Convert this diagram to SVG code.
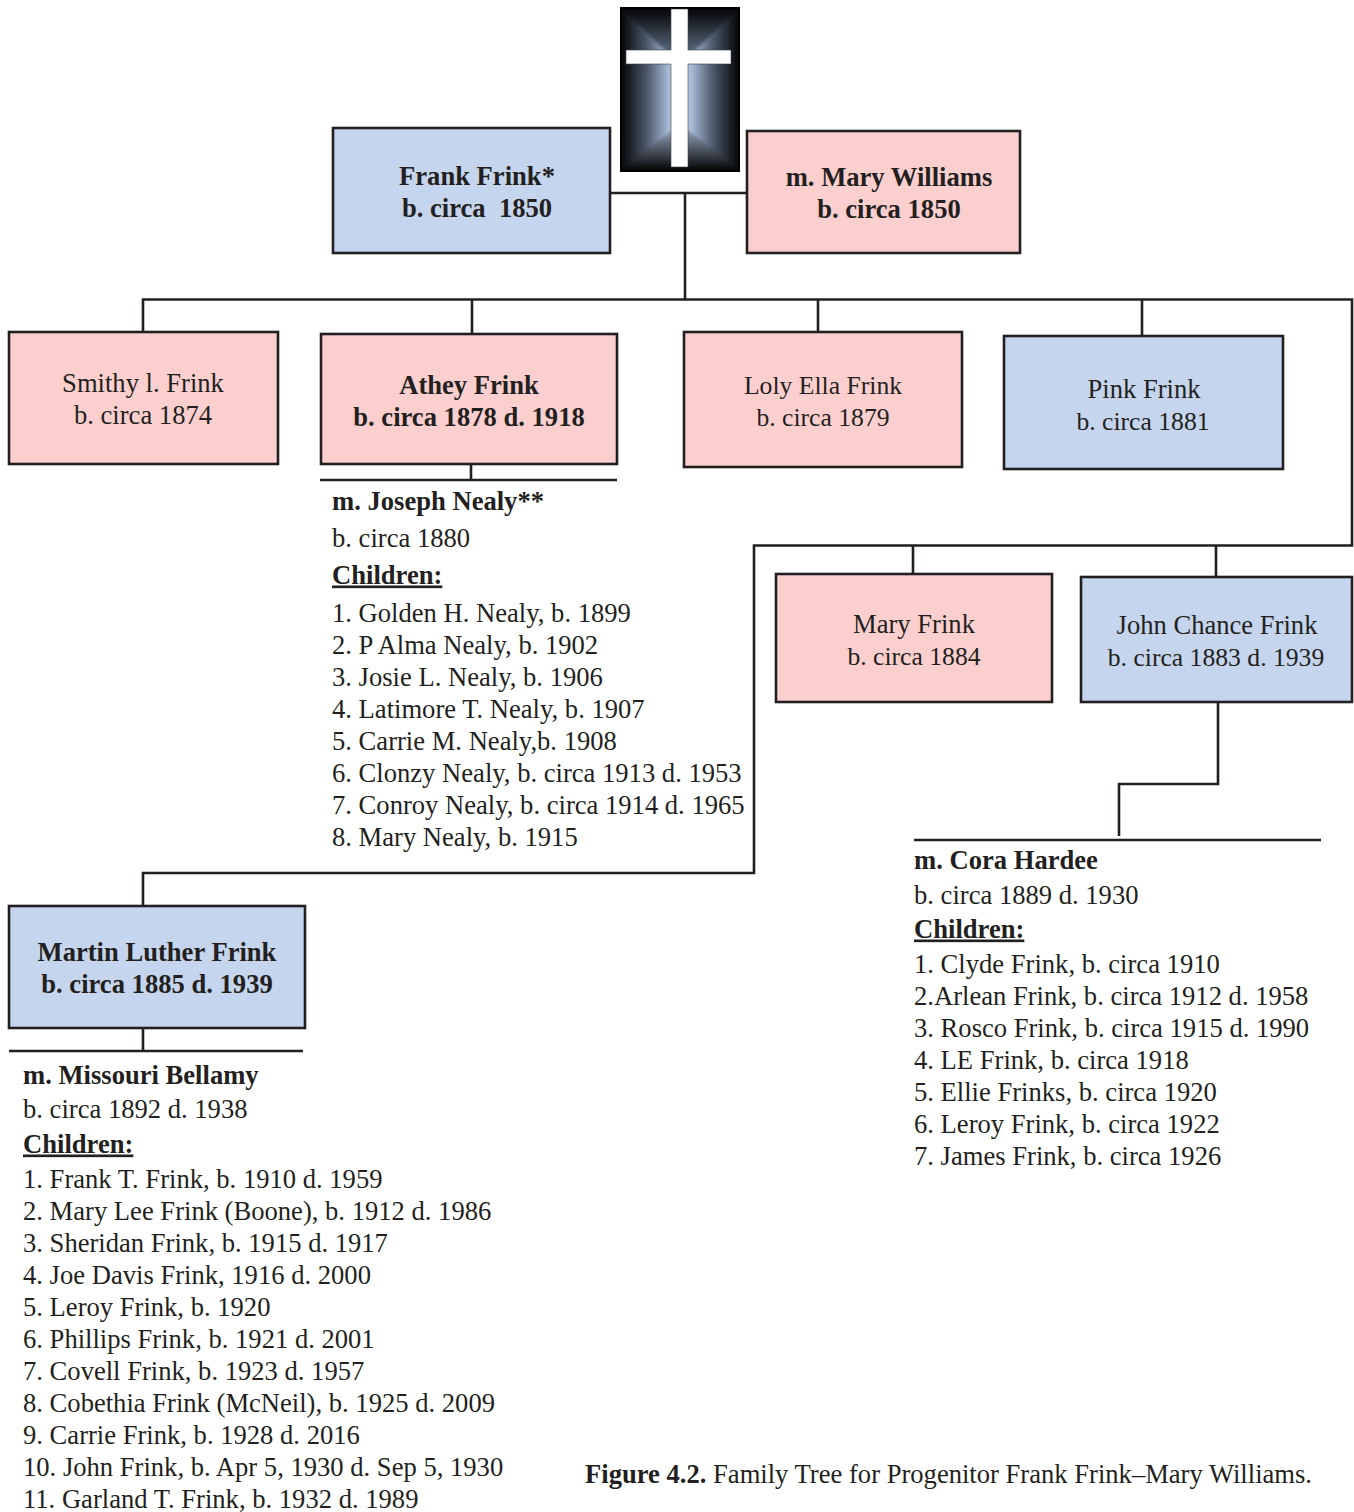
<svg xmlns="http://www.w3.org/2000/svg" width="1354" height="1512" viewBox="0 0 1354 1512">
<style>
text{font-family:"Liberation Serif","Times New Roman",serif;font-size:26.6px;fill:#231f20;transform:translateY(.5px)}
.b{font-weight:bold}
.m{text-anchor:middle}
.t{font-size:25.65px}
.n{stroke:#231f20;stroke-width:2.6}
.p{fill:#fccfcf}
.l{fill:#c6d5ee}
.c{fill:none;stroke:#231f20;stroke-width:2.6}
</style>
<defs>
<linearGradient id="gl" x1="0" x2="1" y1="0" y2="0"><stop offset="0" stop-color="#000"/><stop offset="0.45" stop-color="#4c586a"/><stop offset="0.8" stop-color="#a4b8d4"/><stop offset="1" stop-color="#cfdff4"/></linearGradient>
<linearGradient id="gr" x1="1" x2="0" y1="0" y2="0"><stop offset="0" stop-color="#000"/><stop offset="0.45" stop-color="#4c586a"/><stop offset="0.8" stop-color="#a4b8d4"/><stop offset="1" stop-color="#cfdff4"/></linearGradient>
<linearGradient id="gt" x1="0" x2="0" y1="0" y2="1"><stop offset="0" stop-color="#000"/><stop offset="1" stop-color="#6f829c"/></linearGradient>
<linearGradient id="gb" x1="0" x2="0" y1="1" y2="0"><stop offset="0" stop-color="#000"/><stop offset="1" stop-color="#a0b1c8"/></linearGradient>
<filter id="s" x="-5%" y="-5%" width="110%" height="110%"><feGaussianBlur stdDeviation="1.5"/></filter>
<clipPath id="cc"><rect x="620" y="7" width="120" height="165"/></clipPath>
</defs>
<rect width="1354" height="1512" fill="#fff"/>
<g id="connectors">
<path class="c" d="M610 193H747M685 193V299.5M143 332V299.5H1352V545.5H754V873H143V906"/>
<path class="c" d="M472 299.5V334M818 299.5V332M1142 299.5V335M913 545.5V574M1216 545.5V577M1218 702V784H1119V836"/>
<path class="c" d="M471 465V480M320 480H617M143 1028V1051M9 1051H303M914 840H1321"/>
</g>
<g id="cross">
<rect x="620" y="7" width="120" height="165" fill="#000"/>
<g clip-path="url(#cc)"><g filter="url(#s)">
<polygon points="620,7 680,64 680,125 620,172" fill="url(#gl)"/>
<polygon points="740,7 680,64 680,125 740,172" fill="url(#gr)"/>
<polygon points="620,7 740,7 680,64" fill="url(#gt)"/>
<polygon points="620,172 740,172 680,125" fill="url(#gb)"/>
</g></g>
<path d="M671 9H688V50H731V64H688V167H671V64H626V50H671Z" fill="#fff" stroke="#3a3f48" stroke-width="0.6"/>
</g>
<g id="frank"><rect class="n l" x="333" y="128" width="277" height="125"/><text class="b m" x="477" y="184">Frank Frink*</text><text class="b m" x="477" y="216" xml:space="preserve">b. circa  1850</text></g>
<g id="mary-w"><rect class="n p" x="747" y="131" width="273" height="122"/><text class="b m" x="889" y="185">m. Mary Williams</text><text class="b m" x="889" y="217">b. circa 1850</text></g>
<g id="smithy"><rect class="n p" x="9" y="332" width="269" height="132"/><text class="m" x="143" y="391">Smithy l. Frink</text><text class="m" x="143" y="423">b. circa 1874</text></g>
<g id="athey"><rect class="n p" x="321" y="334" width="296" height="130"/><text class="b m" x="469" y="393">Athey Frink</text><text class="b m" x="469" y="425">b. circa 1878 d. 1918</text></g>
<g id="loly"><rect class="n p" x="684" y="332" width="278" height="135"/><text class="m t" x="823" y="393">Loly Ella Frink</text><text class="m t" x="823" y="425">b. circa 1879</text></g>
<g id="pink"><rect class="n l" x="1004" y="336" width="279" height="133"/><text class="m" x="1144" y="397">Pink Frink</text><text class="m t" x="1143" y="429">b. circa 1881</text></g>
<g id="mary-f"><rect class="n p" x="776" y="574" width="276" height="128"/><text class="m" x="914" y="632">Mary Frink</text><text class="m t" x="914" y="664">b. circa 1884</text></g>
<g id="john"><rect class="n l" x="1081" y="577" width="271" height="125"/><text class="m" x="1217" y="633">John Chance Frink</text><text class="m t" x="1216" y="665">b. circa 1883 d. 1939</text></g>
<g id="martin"><rect class="n l" x="9" y="906" width="296" height="122"/><text class="b m" x="157" y="960">Martin Luther Frink</text><text class="b m" x="157" y="992">b. circa 1885 d. 1939</text></g>
<g id="neal">
<text class="b" x="332" y="509">m. Joseph Nealy**</text><text x="332" y="546">b. circa 1880</text><text class="b" x="332" y="583" text-decoration="underline">Children:</text>
<text x="332" y="621">1. Golden H. Nealy, b. 1899</text><text x="332" y="653">2. P Alma Nealy, b. 1902</text><text x="332" y="685">3. Josie L. Nealy, b. 1906</text><text x="332" y="717">4. Latimore T. Nealy, b. 1907</text><text x="332" y="749">5. Carrie M. Nealy,b. 1908</text><text x="332" y="781">6. Clonzy Nealy, b. circa 1913 d. 1953</text><text x="332" y="813">7. Conroy Nealy, b. circa 1914 d. 1965</text><text x="332" y="845">8. Mary Nealy, b. 1915</text>
</g>
<g id="cora">
<text class="b" x="914" y="868">m. Cora Hardee</text><text x="914" y="903">b. circa 1889 d. 1930</text><text class="b" x="914" y="937" text-decoration="underline">Children:</text>
<text x="914" y="972">1. Clyde Frink, b. circa 1910</text><text x="914" y="1004">2.Arlean Frink, b. circa 1912 d. 1958</text><text x="914" y="1036">3. Rosco Frink, b. circa 1915 d. 1990</text><text x="914" y="1068">4. LE Frink, b. circa 1918</text><text x="914" y="1100">5. Ellie Frinks, b. circa 1920</text><text x="914" y="1132">6. Leroy Frink, b. circa 1922</text><text x="914" y="1164">7. James Frink, b. circa 1926</text>
</g>
<g id="missouri">
<text class="b" x="23" y="1083">m. Missouri Bellamy</text><text x="23" y="1117">b. circa 1892 d. 1938</text><text class="b" x="23" y="1152" text-decoration="underline">Children:</text>
<text x="23" y="1187">1. Frank T. Frink, b. 1910 d. 1959</text><text x="23" y="1219">2. Mary Lee Frink (Boone), b. 1912 d. 1986</text><text x="23" y="1251">3. Sheridan Frink, b. 1915 d. 1917</text><text x="23" y="1283">4. Joe Davis Frink, 1916 d. 2000</text><text x="23" y="1315">5. Leroy Frink, b. 1920</text><text x="23" y="1347">6. Phillips Frink, b. 1921 d. 2001</text><text x="23" y="1379">7. Covell Frink, b. 1923 d. 1957</text><text x="23" y="1411">8. Cobethia Frink (McNeil), b. 1925 d. 2009</text><text x="23" y="1443">9. Carrie Frink, b. 1928 d. 2016</text><text x="23" y="1475">10. John Frink, b. Apr 5, 1930 d. Sep 5, 1930</text><text x="23" y="1507">11. Garland T. Frink, b. 1932 d. 1989</text>
</g>
<text x="585" y="1482"><tspan class="b">Figure 4.2.</tspan> Family Tree for Progenitor Frank Frink–Mary Williams.</text>
</svg>
